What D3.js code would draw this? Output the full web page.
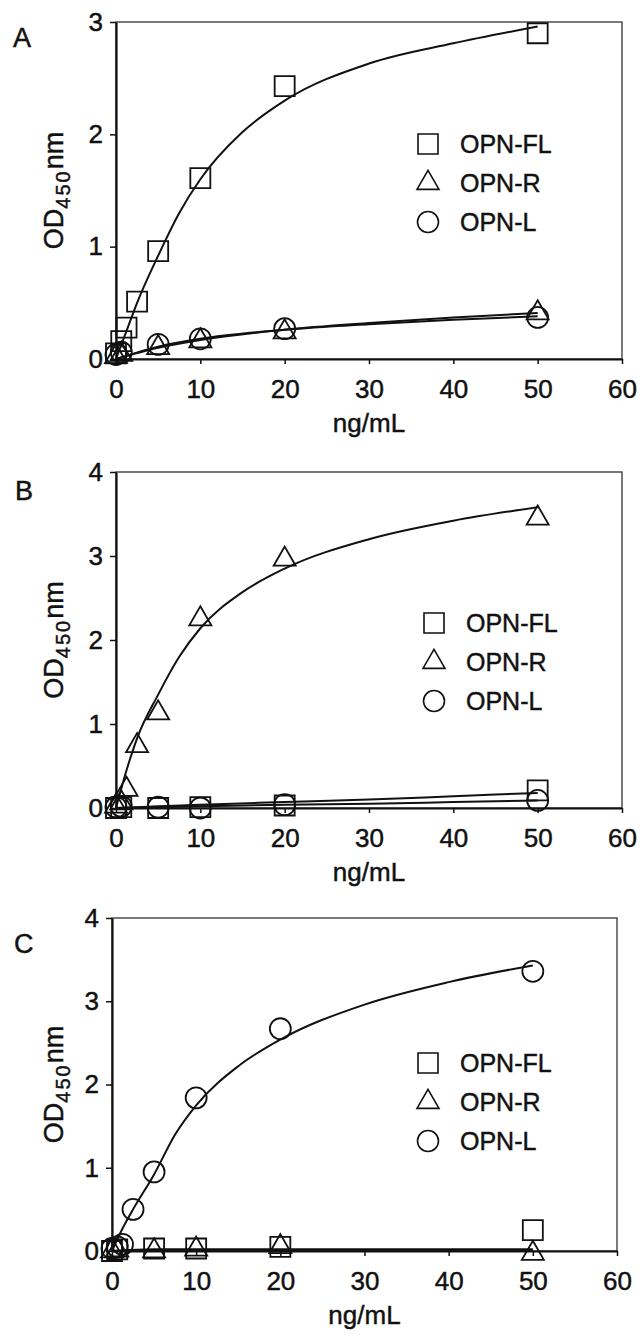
<!DOCTYPE html>
<html>
<head>
<meta charset="utf-8">
<script src="https://cdn.jsdelivr.net/npm/d3@7"></script>
<style>
  body { margin: 0; background: #fff; }
  text { font-family: "Liberation Sans", Arial, sans-serif; fill: #111; stroke: #111; stroke-width: 0.45px; }
</style>
</head>
<body>
<svg id="vis" width="640" height="1336"></svg>
<script>
var vis = d3.select("#vis");

// concentrations (ng/mL)
var conc = [0, 0.625, 1.25, 2.5, 5, 10, 20, 50];
var concLow = [0, 0.625, 5, 10, 20, 50];
var fitX = [0, 1.25, 2.5, 5, 7.5, 10, 15, 20, 30, 40, 50];
var fitXLow = [0, 5, 10, 20, 30, 40, 50];

var seriesNames = ["OPN-FL", "OPN-R", "OPN-L"];
var xTicks = [0, 10, 20, 30, 40, 50, 60];
var yTicks3 = [0, 1, 2, 3];
var yTicks4 = [0, 1, 2, 3, 4];

// panel A
var aFL = [0.05, 0.16, 0.28, 0.51, 0.96, 1.61, 2.43, 2.90];
var aR = [0.02, 0.04, 0.10, 0.16, 0.24, 0.41];
var aL = [0.04, 0.06, 0.13, 0.18, 0.27, 0.37];
var aFitFL = [0, 0.25, 0.50, 0.92, 1.30, 1.60, 2.02, 2.30, 2.63, 2.81, 2.96];
var aFitR = [0, 0.10, 0.17, 0.26, 0.32, 0.37, 0.41];
var aFitL = [0, 0.11, 0.18, 0.26, 0.31, 0.35, 0.38];

// panel B
var bFL = [0.00, 0.01, 0.00, 0.01, 0.03, 0.21];
var bR = [0.02, 0.06, 0.22, 0.74, 1.13, 2.25, 2.96, 3.45];
var bL = [0.01, 0.02, 0.01, 0.00, 0.04, 0.09];
var bFitFL = [0, 0.02, 0.04, 0.07, 0.10, 0.14, 0.18];
var bFitR = [0, 0.45, 0.83, 1.35, 1.80, 2.14, 2.57, 2.85, 3.20, 3.42, 3.58];
var bFitL = [0, 0.01, 0.02, 0.04, 0.05, 0.07, 0.09];

// panel C
var cFL = [0.00, 0.02, 0.03, 0.03, 0.05, 0.25];
var cR = [0.00, 0.01, 0.00, 0.02, 0.05, -0.03];
var cL = [0.03, 0.05, 0.08, 0.50, 0.95, 1.84, 2.67, 3.36];
var cFitFL = [0, 0.02, 0.02, 0.02, 0.02, 0.02, 0.02];
var cFitR = [0, 0.01, 0.01, 0.01, 0.01, 0.01, 0.01];
var cFitL = [0, 0.27, 0.50, 0.92, 1.40, 1.75, 2.22, 2.54, 2.96, 3.23, 3.43];

// layout for each panel
var panels = [
    { label: "A", left: 116, right: 622, top: 22, bottom: 359, yMax: 3, yTicks: yTicks3,
      labelX: 13, labelY: 47, legX: 428, legY: 144,
      series: [
        { name: "OPN-FL", xs: conc, ys: aFL, fx: fitX, fy: aFitFL },
        { name: "OPN-R", xs: concLow, ys: aR, fx: fitXLow, fy: aFitR },
        { name: "OPN-L", xs: concLow, ys: aL, fx: fitXLow, fy: aFitL }] },
    { label: "B", left: 116, right: 622, top: 472, bottom: 808, yMax: 4, yTicks: yTicks4,
      labelX: 15, labelY: 500, legX: 434, legY: 623,
      series: [
        { name: "OPN-FL", xs: concLow, ys: bFL, fx: fitXLow, fy: bFitFL },
        { name: "OPN-R", xs: conc, ys: bR, fx: fitX, fy: bFitR },
        { name: "OPN-L", xs: concLow, ys: bL, fx: fitXLow, fy: bFitL }] },
    { label: "C", left: 112, right: 617, top: 918, bottom: 1251, yMax: 4, yTicks: yTicks4,
      labelX: 14, labelY: 953, legX: 428, legY: 1063,
      series: [
        { name: "OPN-FL", xs: concLow, ys: cFL, fx: fitXLow, fy: cFitFL },
        { name: "OPN-R", xs: concLow, ys: cR, fx: fitXLow, fy: cFitR },
        { name: "OPN-L", xs: conc, ys: cL, fx: fitX, fy: cFitL }] }
];

// marker shapes by series
var shapes = {
    "OPN-FL": d3.symbol().type(d3.symbolSquare).size(400),
    "OPN-R": d3.symbol().type(d3.symbolTriangle).size(210),
    "OPN-L": d3.symbol().type(d3.symbolCircle).size(346)
};

function drawPanel(p) {
    var x = d3.scaleLinear().domain([0, 60]).range([p.left, p.right]);
    var y = d3.scaleLinear().domain([0, p.yMax]).range([p.bottom, p.top]);
    var g = vis.append("g");

    // frame
    g.append("rect")
        .attr("x", p.left).attr("y", p.top)
        .attr("width", p.right - p.left).attr("height", p.bottom - p.top)
        .attr("fill", "none").attr("stroke", "#333").attr("stroke-width", 1.3);

    // fitted curves
    var line = d3.line()
        .x(d => x(d[0]))
        .y(d => y(d[1]))
        .curve(d3.curveMonotoneX);
    p.series.forEach(s => {
        g.append("path")
            .datum(d3.zip(s.fx, s.fy))
            .attr("d", line)
            .attr("fill", "none")
            .attr("stroke", "#111")
            .attr("stroke-width", 2);
    });

    // markers
    p.series.forEach(s => {
        g.selectAll(null)
            .data(d3.zip(s.xs, s.ys))
            .enter().append("path")
            .attr("d", shapes[s.name])
            .attr("transform", d => `translate(${x(d[0])},${y(d[1])})`)
            .attr("fill", "none")
            .attr("stroke", "#111")
            .attr("stroke-width", 1.8);
    });

    // axes
    var xAxis = g.append("g")
        .attr("transform", `translate(0,${p.bottom})`)
        .call(d3.axisBottom(x).tickValues(xTicks).tickFormat(d3.format("d"))
            .tickSize(5).tickSizeOuter(0).tickPadding(16));
    var yAxis = g.append("g")
        .attr("transform", `translate(${p.left},0)`)
        .call(d3.axisLeft(y).tickValues(p.yTicks).tickFormat(d3.format("d"))
            .tickSize(6).tickSizeOuter(0).tickPadding(7));
    [xAxis, yAxis].forEach(a => {
        a.select(".domain").attr("stroke", "#111").attr("stroke-width", 2.2);
        a.selectAll(".tick line").attr("stroke", "#111").attr("stroke-width", 1.5);
        a.selectAll(".tick text")
            .attr("font-size", "26px")
            .attr("font-family", "Liberation Sans, Arial, sans-serif")
            .attr("fill", "#111");
    });

    // axis titles
    g.append("text")
        .attr("x", (p.left + p.right) / 2)
        .attr("y", p.bottom + 73)
        .attr("text-anchor", "middle")
        .attr("font-size", "26px")
        .text("ng/mL");

    var yt = g.append("text")
        .attr("transform", `translate(63,${(p.top + p.bottom) / 2}) rotate(-90)`)
        .attr("text-anchor", "middle")
        .attr("font-size", "27px");
    yt.append("tspan").text("OD");
    yt.append("tspan").attr("font-size", "20px").attr("dy", 7).attr("letter-spacing", "2px").text("450");
    yt.append("tspan").attr("dy", -7).text("nm");

    // panel letter
    g.append("text")
        .attr("x", p.labelX)
        .attr("y", p.labelY)
        .attr("font-size", "27px")
        .text(p.label);

    // legend
    seriesNames.forEach((n, i) => {
        var ly = p.legY + i * 39;
        g.append("path")
            .attr("d", shapes[n])
            .attr("transform", `translate(${p.legX},${ly})`)
            .attr("fill", "none")
            .attr("stroke", "#111")
            .attr("stroke-width", 1.6);
        g.append("text")
            .attr("x", p.legX + 32)
            .attr("y", ly + 9)
            .attr("font-size", "25px")
            .text(n);
    });
}

panels.forEach(drawPanel);
</script>
</body>
</html>
